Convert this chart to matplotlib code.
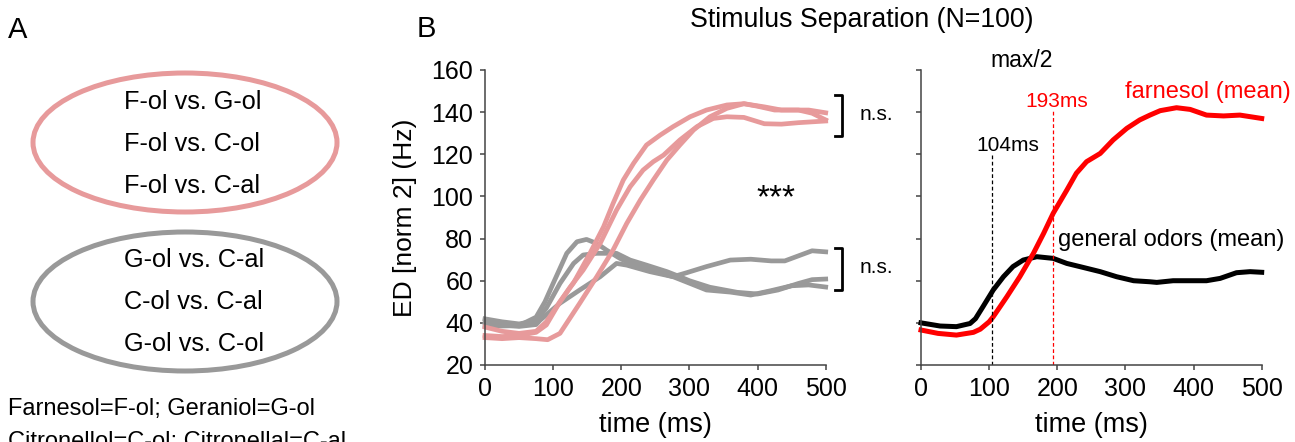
import numpy as np
import matplotlib
matplotlib.use('Agg')
import matplotlib.pyplot as plt
from matplotlib.patches import Ellipse

plt.rcParams['font.family'] = ['Liberation Sans', 'DejaVu Sans']

# ---- data ----
# middle panel: single pair traces (pink = farnesol pairs, gray = other pairs)
t_p1 = [0, 25, 50, 75, 90, 110, 130, 154, 174, 188, 203, 218, 237, 257, 276, 301, 325, 355, 380, 400, 425, 450, 475, 500]
p1 = [38, 36, 35, 36, 40.5, 50, 59, 73, 85.6, 96.7, 107.8, 115.7, 124.4, 129.1, 133.1, 137.8, 141, 143.4, 144, 142.8,
      141, 141, 141, 139.7]
t_p2 = [0, 25, 50, 75, 90, 110, 125, 144, 169, 193, 213, 232, 247, 262, 286, 311, 335, 355, 380, 410, 435, 460, 500]
p2 = [34, 33.5, 34, 35.5, 39, 50, 57, 65, 77.7, 93.5, 104.6, 112.5, 116.5, 119.6, 126.8, 133.1, 137, 137.8, 137.5,
      134.5, 134.3, 135, 135.8]
t_p3 = [0, 25, 50, 75, 92, 110, 139, 164, 188, 208, 228, 247, 267, 286, 306, 330, 355, 380, 410, 435, 460, 480, 500]
p3 = [33, 32.5, 33, 32.5, 32, 35, 49.3, 61.9, 74.6, 87.2, 98.3, 107.8, 117.3, 124.4, 131.5, 137.8, 141.8, 144, 142.5,
      141, 141, 139.5, 136.3]

t_g1 = [0, 25, 50, 75, 88, 100, 120, 135, 149, 164, 178, 198, 218, 242, 276, 301, 325, 360, 390, 420, 450, 475, 500]
g1 = [38.7, 38.5, 38.7, 42.7, 50, 58.7, 73, 78.5, 79.6, 77.7, 74.6, 70.6, 67.4, 65.1, 61.9, 58.7, 55.6, 54.6, 53.2,
      55.3, 57.6, 58, 57]
t_g2 = [0, 25, 50, 75, 90, 110, 130, 144, 164, 193, 213, 237, 267, 286, 300, 330, 370, 400, 430, 460, 480, 500]
g2 = [41.9, 40.5, 39.5, 41, 47, 58.7, 68.2, 72.2, 73, 73, 69.8, 67.4, 64.3, 61.9, 60, 56.9, 54.5, 53.7, 55.6, 58.7,
      60.5, 60.8]
t_g3 = [0, 25, 50, 75, 81, 110, 139, 169, 193, 208, 242, 276, 296, 325, 360, 390, 420, 440, 460, 480, 500]
g3 = [40.3, 39, 38.3, 39.2, 41.3, 49.3, 55.6, 61.9, 68.2, 67.4, 64.3, 61.9, 63.8, 66.7, 69.8, 70.2, 69.4, 69.4, 71.8,
      74.2, 73.7]

# right panel: means
t_red = [0, 25, 52, 77, 87, 100, 106, 126, 145, 165, 180, 194, 214, 228, 243, 263, 282, 302, 321, 336, 351, 375, 395,
         419, 444, 468, 500]
farnesol_mean = [36.6, 35, 34.2, 35.5, 37, 40.5, 42.9, 52.4, 61.9, 73, 82.5, 92, 103, 111, 116.5, 120.4, 126.8, 132.3,
                 136.3, 138.6, 140.7, 142.1, 141.3, 138.6, 138.2, 138.6, 137]
t_blk = [0, 28, 52, 72, 80, 91, 106, 121, 135, 150, 170, 194, 214, 233, 263, 287, 312, 336, 346, 370, 395, 419, 439,
         463, 483, 500]
general_mean = [40, 38.5, 38.2, 39.7, 42, 47.7, 55.6, 61.9, 66.7, 69.8, 71.4, 70.6, 68.2, 66.7, 64.3, 61.9, 60, 59.5,
                59.2, 60, 60, 60, 61.1, 63.8, 64.3, 64]
half_max_general = 104
half_max_farnesol = 193

pairs_farnesol = ['F-ol vs. G-ol', 'F-ol vs. C-ol', 'F-ol vs. C-al']
pairs_general = ['G-ol vs. C-al', 'C-ol vs. C-al', 'G-ol vs. C-ol']
footer = ['Farnesol=F-ol; Geraniol=G-ol', 'Citronellol=C-ol; Citronellal=C-al']

PINK = '#E79A9B'
GRAY = '#999999'
AXC = '#444444'
W, H = 1295, 442

fig = plt.figure(figsize=(W / 100, H / 100), dpi=100)

# ---- panel A, drawn in pixel coordinates ----
axA = fig.add_axes([0, 0, 1, 1])
axA.set_xlim(0, W)
axA.set_ylim(H, 0)
axA.axis('off')
axA.add_patch(Ellipse((185, 142.5), 304, 139, fill=False, ec=PINK, lw=3.6))
axA.add_patch(Ellipse((185, 301.5), 304, 139, fill=False, ec=GRAY, lw=3.6))
for i, s in enumerate(pairs_farnesol):
    axA.text(124, 109 + 42 * i, s, fontsize=18.2, va='baseline')
for i, s in enumerate(pairs_general):
    axA.text(124, 267 + 42 * i, s, fontsize=18.2, va='baseline')
for i, s in enumerate(footer):
    axA.text(8, 415 + 33 * i, s, fontsize=17, va='baseline')
axA.text(8, 38, 'A', fontsize=21, va='baseline')
axA.text(417, 37, 'B', fontsize=21, va='baseline')
axA.text(862, 27, 'Stimulus Separation (N=100)', fontsize=19.3, va='baseline', ha='center')


def style(ax):
    ax.set_xlim(0, 500)
    ax.set_ylim(20, 160)
    ax.set_xticks(range(0, 501, 100))
    ax.set_yticks(range(20, 161, 20))
    for side in ['top', 'right']:
        ax.spines[side].set_visible(False)
    for side in ['left', 'bottom']:
        ax.spines[side].set_color(AXC)
        ax.spines[side].set_linewidth(1.1)
    ax.tick_params(direction='out', length=3.5, width=1.1, color=AXC, labelsize=18, pad=5)
    ax.set_xlabel('time (ms)', fontsize=19.5)
    ax.xaxis.set_label_coords(0.5, -0.16)
    ax.patch.set_alpha(0)


# ---- panel B left: individual pairs ----
ax1 = fig.add_axes([485 / W, 1 - 365 / H, 340.7 / W, 295 / H])
for t, y in [(t_g1, g1), (t_g2, g2), (t_g3, g3)]:
    ax1.plot(t, y, color=GRAY, lw=3.4, solid_joinstyle='round', clip_on=False)
for t, y in [(t_p1, p1), (t_p2, p2), (t_p3, p3)]:
    ax1.plot(t, y, color=PINK, lw=3.4, solid_joinstyle='round', clip_on=False)
style(ax1)
ax1.set_ylabel('ED [norm 2] (Hz)', fontsize=19)
ax1.yaxis.set_label_coords(-0.2, 0.5)

# significance brackets
for y0, y1 in [(128.7, 148), (55.6, 75.5)]:
    ax1.plot([514, 524, 524, 514], [y0, y0, y1, y1], color='black', lw=2, clip_on=False)
ax1.text(550, 136.5, 'n.s.', fontsize=15, va='baseline')
ax1.text(550, 63.7, 'n.s.', fontsize=15, va='baseline')
ax1.text(427, 95, '***', fontsize=24, va='baseline', ha='center')

# ---- panel B right: means ----
ax2 = fig.add_axes([921 / W, 1 - 365 / H, 340.7 / W, 295 / H])
ax2.plot(t_blk, general_mean, color='black', lw=3.6, solid_joinstyle='round', clip_on=False)
ax2.plot(t_red, farnesol_mean, color='red', lw=3.6, solid_joinstyle='round', clip_on=False)
ax2.plot([half_max_general, half_max_general], [20, 119.7], color='black', lw=0.9, ls=(0, (3, 2)))
ax2.plot([half_max_farnesol, half_max_farnesol], [20, 140.7], color='red', lw=0.9, ls=(0, (3, 2)))
style(ax2)
ax2.tick_params(labelleft=False)
ax2.text(148, 164.7, 'max/2', fontsize=16.5, ha='center', va='center')
ax2.text(82, 124.4, '104ms', fontsize=15, va='center')
ax2.text(152.6, 145, '193ms', fontsize=15, va='center', color='red')
ax2.text(299, 149.7, 'farnesol (mean)', fontsize=17, va='center', color='red')
ax2.text(201, 79.3, 'general odors (mean)', fontsize=17, va='center')

fig.savefig('out.png', dpi=100)
